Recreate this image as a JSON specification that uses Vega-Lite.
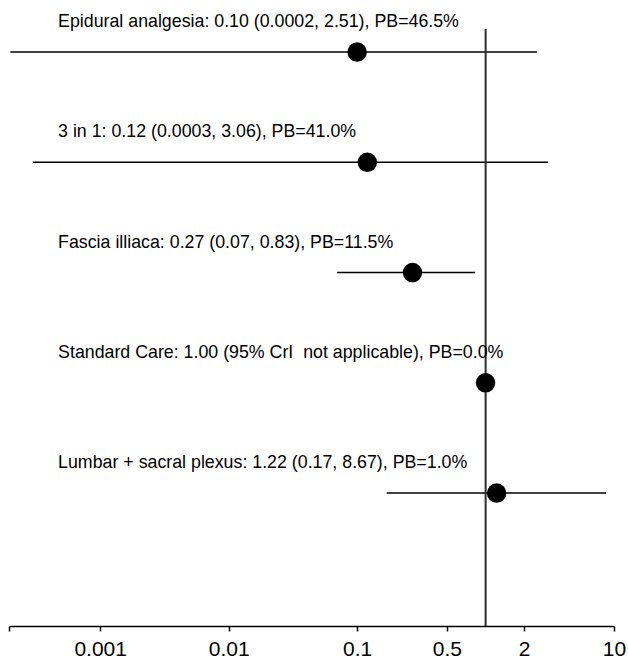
{
  "$schema": "https://vega.github.io/schema/vega-lite/v6.json",
  "width": 605,
  "height": 626,
  "autosize": {"type": "none"},
  "padding": {"left": 9, "top": 0, "right": 14, "bottom": 35},
  "background": "white",
  "config": {"view": {"stroke": null}, "font": "Liberation Sans"},
  "data": {
    "values": [
      {"row": 1, "label": "Epidural analgesia: 0.10 (0.0002, 2.51), PB=46.5%", "est": 0.1, "lo": 0.0002, "hi": 2.51},
      {"row": 2, "label": "3 in 1: 0.12 (0.0003, 3.06), PB=41.0%", "est": 0.12, "lo": 0.0003, "hi": 3.06},
      {"row": 3, "label": "Fascia illiaca: 0.27 (0.07, 0.83), PB=11.5%", "est": 0.27, "lo": 0.07, "hi": 0.83},
      {"row": 4, "label": "Standard Care: 1.00 (95% CrI\u00a0 not applicable), PB=0.0%", "est": 1.0},
      {"row": 5, "label": "Lumbar + sacral plexus: 1.22 (0.17, 8.67), PB=1.0%", "est": 1.22, "lo": 0.17, "hi": 8.67}
    ]
  },
  "encoding": {
    "y": {"field": "row", "type": "quantitative", "scale": {"domain": [0.528, 6.206], "reverse": true, "nice": false, "zero": false}, "axis": null}
  },
  "layer": [
    {
      "mark": {"type": "rule", "color": "#000000", "strokeWidth": 1.5},
      "encoding": {
        "x": {"field": "lo", "type": "quantitative", "scale": {"type": "log", "domain": [0.000195, 10], "nice": false},
          "title": null,
          "axis": {
            "values": [0.000195, 0.001, 0.01, 0.1, 0.5, 2, 10],
            "labelExpr": "datum.value < 0.0009 ? '' : '' + datum.value",
            "grid": false,
            "domainColor": "#000000", "domainWidth": 1.5,
            "tickColor": "#000000", "tickWidth": 1.5, "tickSize": 5,
            "labelFontSize": 21, "labelColor": "#000000", "labelFont": "Liberation Sans",
            "labelPadding": 7, "labelFlush": false, "labelOverlap": false
          }
        },
        "x2": {"field": "hi"}
      }
    },
    {
      "mark": {"type": "rule", "color": "#333333", "strokeWidth": 1.3},
      "encoding": {
        "x": {"datum": 1},
        "y": {"datum": 0.79},
        "y2": {"datum": 6.206}
      }
    },
    {
      "mark": {"type": "point", "filled": true, "shape": "circle", "size": 380, "color": "#000000", "opacity": 1},
      "encoding": {
        "x": {"field": "est", "type": "quantitative"}
      }
    },
    {
      "mark": {"type": "text", "align": "left", "baseline": "middle", "dy": -30, "fontSize": 17.8, "color": "#000000", "font": "Liberation Sans"},
      "encoding": {
        "x": {"datum": 0.00047},
        "text": {"field": "label"}
      }
    }
  ]
}
